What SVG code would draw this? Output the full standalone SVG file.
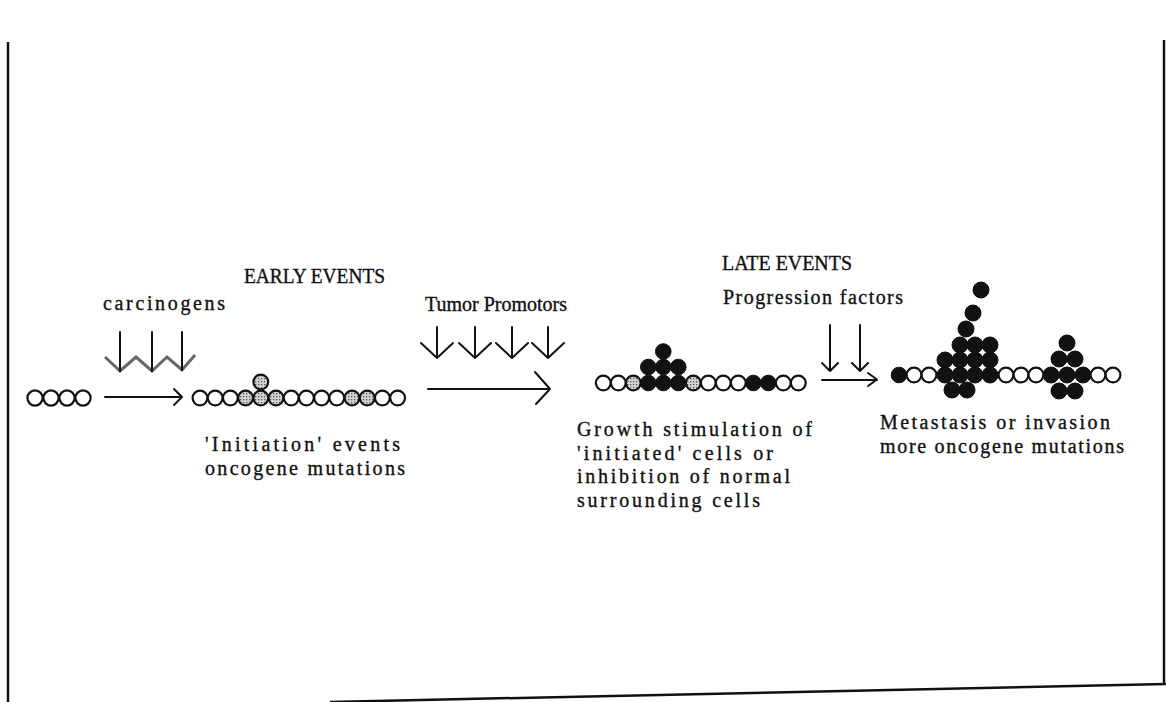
<svg xmlns="http://www.w3.org/2000/svg" width="1166" height="702" viewBox="0 0 1166 702">
<style>
text{font-family:"Liberation Serif","Times New Roman",serif;font-size:20px;fill:#111;stroke:#111;stroke-width:0.35}
.c{fill:#fff;stroke:#111;stroke-width:2.2}
.s{fill:url(#stip);stroke:#111;stroke-width:2.2}
.b{fill:#111;stroke:#111;stroke-width:1}
.ln{fill:none;stroke:#111;stroke-width:2;stroke-linecap:round;stroke-linejoin:round}
.zz{fill:none;stroke:#666;stroke-width:3;stroke-linejoin:miter}
.fr{fill:none;stroke:#111;stroke-width:2.5}
</style>
<defs>
<pattern id="stip" width="3" height="3" patternUnits="userSpaceOnUse"><rect width="3" height="3" fill="#d4d4d4"/><rect width="1.3" height="1.3" fill="#555"/></pattern>
</defs>
<rect width="1166" height="702" fill="#fff"/>
<g id="frame">
<line class="fr" x1="8" y1="42" x2="8" y2="702"/>
<line class="fr" x1="1164" y1="40" x2="1164" y2="685"/>
<line class="fr" x1="330" y1="702" x2="1166" y2="684"/>
</g>
<g id="headings">
<text x="244" y="283" textLength="141" lengthAdjust="spacingAndGlyphs">EARLY EVENTS</text>
<text x="722" y="270" textLength="130" lengthAdjust="spacingAndGlyphs">LATE EVENTS</text>
</g>
<g id="agents">
<text x="103" y="310" textLength="122" lengthAdjust="spacing">carcinogens</text>
<text x="425" y="311" textLength="142" lengthAdjust="spacingAndGlyphs">Tumor Promotors</text>
<text x="723" y="304" textLength="180" lengthAdjust="spacing">Progression factors</text>
</g>
<g id="connectors">
<path class="zz" d="M105,357 L120,371 L136,357 L152,371 L167,357 L182,370 L195,355"/>
<path class="ln" d="M120,332 V371 M152,332 V371 M182,332 V370"/>
<path class="ln" d="M105,397 H182 M174,389 L182,397 L174,405"/>
<path class="ln" d="M437,327 V358 M421,343 L437,358 L453,343"/>
<path class="ln" d="M475,327 V358 M459,343 L475,358 L491,343"/>
<path class="ln" d="M512,327 V358 M496,343 L512,358 L528,343"/>
<path class="ln" d="M548,327 V358 M532,343 L548,358 L564,343"/>
<path class="ln" d="M428,389 H550 M535,372 L550,389 L536,404"/>
<path class="ln" d="M830,325 V371 M822,363 L830,371 L838,363"/>
<path class="ln" d="M860,325 V371 M852,363 L860,371 L868,363"/>
<path class="ln" d="M822,380 H877 M868,373 L877,379.5 L868,386"/>
</g>
<g id="normal-cells">
<circle class="c" cx="35" cy="398" r="7.6"/>
<circle class="c" cx="51" cy="398" r="7.6"/>
<circle class="c" cx="67" cy="398" r="7.6"/>
<circle class="c" cx="83" cy="398" r="7.6"/>
</g>
<g id="initiated-cells">
<circle class="c" cx="200" cy="398" r="7.4"/>
<circle class="c" cx="215.2" cy="398" r="7.4"/>
<circle class="c" cx="230.4" cy="398" r="7.4"/>
<circle class="s" cx="245.6" cy="398" r="7.4"/>
<circle class="s" cx="260.8" cy="382" r="7.4"/>
<circle class="s" cx="260.8" cy="398" r="7.4"/>
<circle class="s" cx="276" cy="398" r="7.4"/>
<circle class="c" cx="291.2" cy="398" r="7.4"/>
<circle class="c" cx="306.4" cy="398" r="7.4"/>
<circle class="c" cx="321.6" cy="398" r="7.4"/>
<circle class="c" cx="336.8" cy="398" r="7.4"/>
<circle class="s" cx="352" cy="398" r="7.4"/>
<circle class="s" cx="367.2" cy="398" r="7.4"/>
<circle class="c" cx="382.4" cy="398" r="7.4"/>
<circle class="c" cx="397.6" cy="398" r="7.4"/>
</g>
<g id="initiation-label">
<text x="205" y="451" textLength="195" lengthAdjust="spacing">'Initiation' events</text>
<text x="205" y="475" textLength="200" lengthAdjust="spacing">oncogene mutations</text>
</g>
<g id="promoted-cells">
<circle class="c" cx="603.3" cy="383" r="7.4"/>
<circle class="c" cx="618.3" cy="383" r="7.4"/>
<circle class="s" cx="633.3" cy="383" r="7.4"/>
<circle class="b" cx="648.3" cy="383" r="7.8"/>
<circle class="b" cx="663.3" cy="383" r="7.8"/>
<circle class="b" cx="678.3" cy="383" r="7.8"/>
<circle class="b" cx="648.3" cy="367" r="7.8"/>
<circle class="b" cx="663.3" cy="367" r="7.8"/>
<circle class="b" cx="678.3" cy="367" r="7.8"/>
<circle class="b" cx="663.3" cy="351.5" r="7.8"/>
<circle class="s" cx="693.3" cy="383" r="7.4"/>
<circle class="c" cx="708.3" cy="383" r="7.4"/>
<circle class="c" cx="723.3" cy="383" r="7.4"/>
<circle class="c" cx="738.3" cy="383" r="7.4"/>
<circle class="b" cx="753.3" cy="383" r="7.8"/>
<circle class="b" cx="768.3" cy="383" r="7.8"/>
<circle class="c" cx="783.3" cy="383" r="7.4"/>
<circle class="c" cx="798.3" cy="383" r="7.4"/>
</g>
<g id="promotion-label">
<text x="577" y="436" textLength="235" lengthAdjust="spacing">Growth stimulation of</text>
<text x="577" y="460" textLength="196" lengthAdjust="spacing">'initiated' cells or</text>
<text x="577" y="483" textLength="213" lengthAdjust="spacing">inhibition of normal</text>
<text x="577" y="507" textLength="183" lengthAdjust="spacing">surrounding cells</text>
</g>
<g id="metastatic-cells">
<circle class="b" cx="899" cy="375" r="7.8"/>
<circle class="c" cx="914" cy="375" r="7.4"/>
<circle class="c" cx="929" cy="375" r="7.4"/>
<circle class="b" cx="981" cy="290" r="8"/>
<circle class="b" cx="973" cy="313" r="8"/>
<circle class="b" cx="966" cy="329" r="8"/>
<circle class="b" cx="960" cy="345" r="8"/>
<circle class="b" cx="975" cy="345" r="8"/>
<circle class="b" cx="990" cy="345" r="8"/>
<circle class="b" cx="945" cy="360" r="8"/>
<circle class="b" cx="960" cy="360" r="8"/>
<circle class="b" cx="975" cy="360" r="8"/>
<circle class="b" cx="990" cy="360" r="8"/>
<circle class="b" cx="945" cy="375" r="8"/>
<circle class="b" cx="960" cy="375" r="8"/>
<circle class="b" cx="975" cy="375" r="8"/>
<circle class="b" cx="990" cy="375" r="8"/>
<circle class="b" cx="952" cy="390" r="8"/>
<circle class="b" cx="967" cy="390" r="8"/>
<circle class="c" cx="1006" cy="375" r="7.4"/>
<circle class="c" cx="1021" cy="375" r="7.4"/>
<circle class="c" cx="1036" cy="375" r="7.4"/>
<circle class="b" cx="1067" cy="343" r="8"/>
<circle class="b" cx="1059" cy="359" r="8"/>
<circle class="b" cx="1075" cy="359" r="8"/>
<circle class="b" cx="1051" cy="375" r="8"/>
<circle class="b" cx="1067" cy="375" r="8"/>
<circle class="b" cx="1083" cy="375" r="8"/>
<circle class="b" cx="1059" cy="391" r="8"/>
<circle class="b" cx="1075" cy="391" r="8"/>
<circle class="c" cx="1098" cy="375" r="7.4"/>
<circle class="c" cx="1113" cy="375" r="7.4"/>
</g>
<g id="metastasis-label">
<text x="880" y="429" textLength="230" lengthAdjust="spacing">Metastasis or invasion</text>
<text x="880" y="453" textLength="244" lengthAdjust="spacing">more oncogene mutations</text>
</g>
</svg>
